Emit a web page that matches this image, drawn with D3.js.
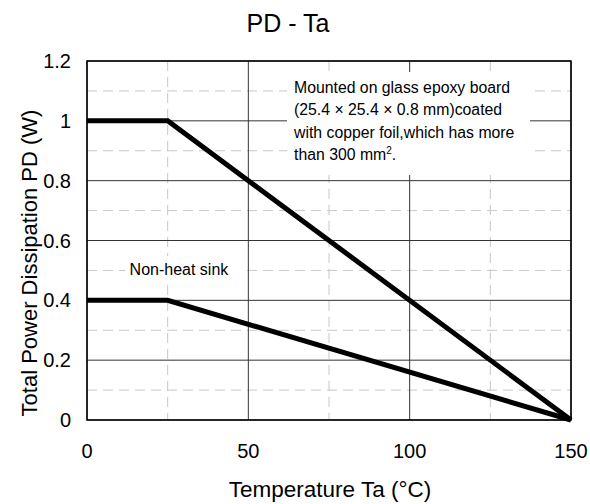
<!DOCTYPE html>
<html>
<head>
<meta charset="utf-8">
<script src="https://cdn.jsdelivr.net/npm/d3@7"></script>
<style>
body { margin: 0; background: #fff; }
text { font-family: "Liberation Sans", Arial, sans-serif; fill: #000; }
</style>
</head>
<body>
<div id="chart"></div>
<script>
// curve data: Ta (C) vs PD (W)
let boardTa = [0, 25, 150];
let boardPd = [1.0, 1.0, 0];
let bareTa = [0, 25, 150];
let barePd = [0.4, 0.4, 0];
let xTicks = [0, 50, 100, 150];
let yTicks = [0, 0.2, 0.4, 0.6, 0.8, 1, 1.2];
let xMinor = [25, 75, 125];
let yMinor = [0.1, 0.3, 0.5, 0.7, 0.9, 1.1];
let noteLines = ["Mounted on glass epoxy board", "(25.4 \u00d7 25.4 \u00d7 0.8 mm)coated", "with copper foil,which has more"];

var margin = {top: 61, right: 19, bottom: 84, left: 87};
var width = 590 - margin.left - margin.right,
	height = 504 - margin.top - margin.bottom;

var svg = d3.select("#chart").append("svg")
	.attr("width", 590)
	.attr("height", 504);
var g = svg.append("g").attr("transform", "translate(" + margin.left + "," + margin.top + ")");

var x = d3.scaleLinear().domain([0, 150]).range([0, width]);
var y = d3.scaleLinear().domain([0, 1.2]).range([height, 0]);

// minor dashed grid
g.selectAll(".vminor").data(xMinor).enter().append("line")
	.attr("x1", d => x(d)).attr("x2", d => x(d))
	.attr("y1", 0).attr("y2", height)
	.attr("stroke", "#c8c8c8").attr("stroke-dasharray", "10,6");
g.selectAll(".hminor").data(yMinor).enter().append("line")
	.attr("y1", d => y(d)).attr("y2", d => y(d))
	.attr("x1", 0).attr("x2", width)
	.attr("stroke", "#c8c8c8").attr("stroke-dasharray", "10,6");

// major solid grid
g.selectAll(".vmajor").data(xTicks).enter().append("line")
	.attr("x1", d => x(d)).attr("x2", d => x(d))
	.attr("y1", 0).attr("y2", height)
	.attr("stroke", "#333").attr("stroke-width", 1);
g.selectAll(".hmajor").data(yTicks).enter().append("line")
	.attr("y1", d => y(d)).attr("y2", d => y(d))
	.attr("x1", 0).attr("x2", width)
	.attr("stroke", "#333").attr("stroke-width", 1);

// label backgrounds
g.append("rect")
	.attr("x", 200).attr("y", 11)
	.attr("width", 243).attr("height", 103)
	.attr("fill", "#fff");
g.append("rect")
	.attr("x", 38).attr("y", 195)
	.attr("width", 118).attr("height", 28)
	.attr("fill", "#fff");

g.append("rect")
	.attr("width", width).attr("height", height)
	.attr("fill", "none").attr("stroke", "#000").attr("stroke-width", 1.5);

var line = d3.line().x(d => x(d[0])).y(d => y(d[1]));
g.append("path")
	.datum(boardTa.map((t, i) => [t, boardPd[i]]))
	.attr("d", line).attr("fill", "none").attr("stroke", "#000").attr("stroke-width", 5);
g.append("path")
	.datum(bareTa.map((t, i) => [t, barePd[i]]))
	.attr("d", line).attr("fill", "none").attr("stroke", "#000").attr("stroke-width", 5);

// tick labels
g.selectAll(".xl").data(xTicks).enter().append("text")
	.attr("x", d => x(d)).attr("y", height + 38)
	.attr("text-anchor", "middle").style("font-size", "20px")
	.text(d => d);
g.selectAll(".yl").data(yTicks).enter().append("text")
	.attr("x", -16).attr("y", d => y(d) + 7)
	.attr("text-anchor", "end").style("font-size", "20px")
	.text(d => d);

svg.append("text")
	.attr("x", 288).attr("y", 32)
	.attr("text-anchor", "middle").style("font-size", "25px")
	.text("PD - Ta");
svg.append("text")
	.attr("x", 330).attr("y", 497)
	.attr("text-anchor", "middle").style("font-size", "22.5px")
	.text("Temperature Ta (\u00b0C)");
svg.append("text")
	.attr("transform", "translate(37,263) rotate(-90)")
	.attr("text-anchor", "middle").style("font-size", "22px")
	.text("Total Power Dissipation PD (W)");

// notes
noteLines.forEach((s, i) => {
	g.append("text")
		.attr("x", 207).attr("y", 32 + i * 22.3)
		.style("font-size", "15.8px")
		.text(s);
});
var last = g.append("text")
	.attr("x", 207).attr("y", 32 + 3 * 22.3)
	.style("font-size", "15.8px");
last.append("tspan").text("than 300 mm");
last.append("tspan").attr("dy", -6).style("font-size", "10px").text("2");
last.append("tspan").attr("dy", 6).text(".");

g.append("text")
	.attr("x", x(28.5)).attr("y", y(0.5) + 5)
	.attr("text-anchor", "middle").style("font-size", "16px")
	.text("Non-heat sink");
</script>
</body>
</html>
